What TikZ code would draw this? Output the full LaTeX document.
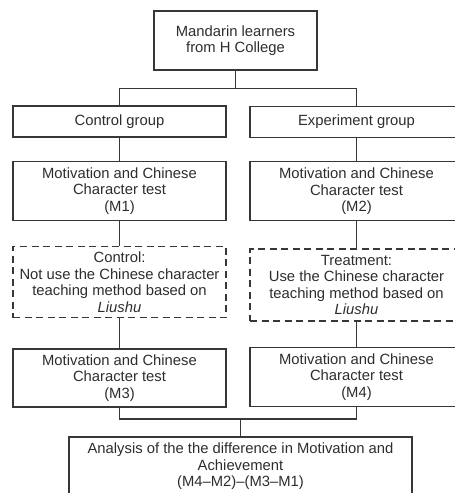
\documentclass[tikz,border=0pt]{standalone}
\usepackage{fontspec}
\setmainfont{Liberation Sans}
\definecolor{boxgray}{RGB}{55,55,55}
\definecolor{txtgray}{RGB}{45,45,45}
\usetikzlibrary{positioning}

\begin{document}
\begin{tikzpicture}[
      x=1pt, y=1pt,
      box/.style={draw=boxgray, line width=1.3pt, minimum width=213pt, minimum height=59pt, inner sep=3pt,
        text=txtgray, align=center, font=\fontsize{14.8}{16.5}\selectfont},
      dashbox/.style={box, dash pattern=on 7pt off 4.5pt, minimum height=71pt},
      link/.style={draw=boxgray, line width=1.3pt}
    ]
      \useasboundingbox (0,0) rectangle (455,-493);
      \clip (0,0) rectangle (455,-493);

      % Sample and groups
      \node[box, minimum width=163pt] (learners) at (235.5,-40.5) {Mandarin learners\\from H College};
      \node[box, minimum height=31pt] (ctrl) at (119.5,-121.5) {Control group};
      \node[box, minimum height=31pt] (expt) at (356.5,-122) {Experiment group};

      \coordinate[below=18pt of learners.south] (split);
      \draw[link] (learners) -- (split);
      \draw[link] (split) -| (ctrl);
      \draw[link] (split) -| (expt);

      % Control branch (left)
      \node[box, below=23pt of ctrl] (pre1) {Motivation and Chinese\\Character test\\(M1)};
      \node[dashbox, below=25pt of pre1] (ctrlcond) {Control:\\Not use the Chinese character\\teaching method based on\\\textit{Liushu}};
      \node[box, below=30pt of ctrlcond, minimum height=58pt] (post3) {Motivation and Chinese\\Character test\\(M3)};

      \draw[link] (ctrl) -- (pre1);
      \draw[link] (pre1) -- (ctrlcond);
      \draw[link] (ctrlcond) -- (post3);

      % Treatment branch (right)
      \node[box, below=23pt of expt] (pre2) {Motivation and Chinese\\Character test\\(M2)};
      \node[dashbox, below=27pt of pre2, minimum height=72pt] (treat) {Treatment:\\Use the Chinese character\\teaching method based on\\\textit{Liushu}};
      \node[box, below=25pt of treat] (post4) {Motivation and Chinese\\Character test\\(M4)};

      \draw[link] (expt) -- (pre2);
      \draw[link] (pre2) -- (treat);
      \draw[link] (treat) -- (post4);

      % Analysis
      \coordinate (merge) at (240.5,-419);
      \node[box, minimum width=343pt] (analysis) at (240.5,-466.5) {Analysis of the the difference in Motivation and\\Achievement\\(M4--M2)--(M3--M1)};

      \draw[link] (post3) |- (merge) -| (post4);
      \draw[link] (merge) -- (analysis);
    \end{tikzpicture}
\end{document}
